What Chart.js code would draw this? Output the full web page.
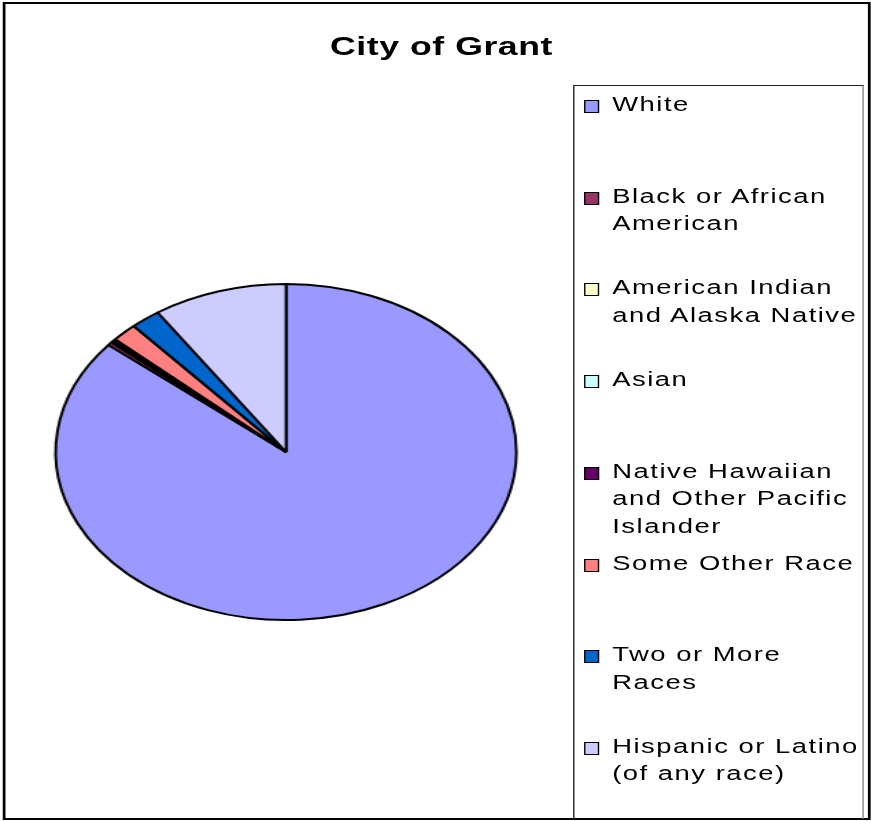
<!DOCTYPE html>
<html>
<head>
<meta charset="utf-8">
<script src="https://cdn.jsdelivr.net/npm/chart.js@4.4.1/dist/chart.umd.min.js"></script>
<style>
    html, body { margin: 0; padding: 0; background: #fff; }
    /* the whole picture is a horizontally stretched Excel chart */
    #stage {
        position: absolute; left: 0; top: 0;
        width: 636px; height: 821px;
        transform: scaleX(1.3711); transform-origin: 0 0;
        font-family: "Liberation Sans", Arial, sans-serif;
        color: #000;
    }
    #frame {
        position: absolute; left: 1.5px; top: 2px; width: 633.5px; height: 818px;
        border: 2px solid #000; box-sizing: border-box;
    }
    #pie { position: absolute; left: 0; top: 0; }
    #title {
        position: absolute; left: 0; width: 644px; top: 31px;
        text-align: center; font-weight: bold; font-size: 26px; line-height: 30px;
        letter-spacing: 0.4px;
    }
    #legend {
        position: absolute; left: 418px; top: 85px; width: 211.5px; height: 734px;
        border: 1px solid #222; border-right: 1.5px solid #888; border-bottom: none;
        box-sizing: border-box;
    }
    .item { position: absolute; left: 0; }
    .box {
        position: absolute; left: 7.3px; top: 9px; width: 10.6px; height: 13px;
        border: 1.3px solid #000; box-sizing: border-box;
    }
    .text {
        position: absolute; left: 27.5px; top: 0; white-space: nowrap;
        font-size: 20px; line-height: 27.5px; letter-spacing: 1.1px;
    }
</style>
</head>
<body>
<div id="stage">
    <div id="frame"></div>
    <canvas id="pie" width="636" height="821"></canvas>
    <div id="title">City of Grant</div>
    <div id="legend"></div>
</div>
<script>
    const titleText = "City of Grant";
    const categories = [
        "White",
        "Black or African American",
        "American Indian and Alaska Native",
        "Asian",
        "Native Hawaiian and Other Pacific Islander",
        "Some Other Race",
        "Two or More Races",
        "Hispanic or Latino (of any race)",
    ];
    const legendLines = [
        ["White"],
        ["Black or African", "American"],
        ["American Indian", "and Alaska Native"],
        ["Asian"],
        ["Native Hawaiian", "and Other Pacific", "Islander"],
        ["Some Other Race"],
        ["Two or More", "Races"],
        ["Hispanic or Latino", "(of any race)"],
    ];
    // percent of population
    const shares = [86.0, 0.3, 0.2, 0.1, 0.1, 1.8, 2.1, 9.4];
    const colors = ["#9999FF", "#993366", "#FFFFCC", "#CCFFFF", "#660066", "#FF8080", "#0066CC", "#CCCCFF"];

    document.getElementById("title").textContent = titleText;

    // legend: evenly spaced entries like the Excel one
    const legendEl = document.getElementById("legend");
    legendLines.forEach((lines, i) => {
        const item = document.createElement("div");
        item.className = "item";
        item.style.top = (5 + 91.7 * i) + "px";
        const box = document.createElement("div");
        box.className = "box";
        box.style.background = colors[i];
        const text = document.createElement("div");
        text.className = "text";
        text.innerHTML = lines.join("<br>");
        item.appendChild(box);
        item.appendChild(text);
        legendEl.appendChild(item);
    });

    const ctx = document.getElementById("pie").getContext("2d");
    new Chart(ctx, {
        type: "pie",
        data: {
            labels: categories,
            datasets: [{
                data: shares,
                backgroundColor: colors,
                borderColor: "#000",
                borderWidth: 2,
                radius: 168,
            }],
        },
        options: {
            responsive: false,
            animation: false,
            events: [],
            // puts the pie centre at (208.6, 452) inside the stage
            layout: { padding: { left: 38.6, right: 257.4, top: 282, bottom: 199 } },
            plugins: {
                legend: { display: false },
                title: { display: false },
                tooltip: { enabled: false },
            },
        },
    });
</script>
</body>
</html>
